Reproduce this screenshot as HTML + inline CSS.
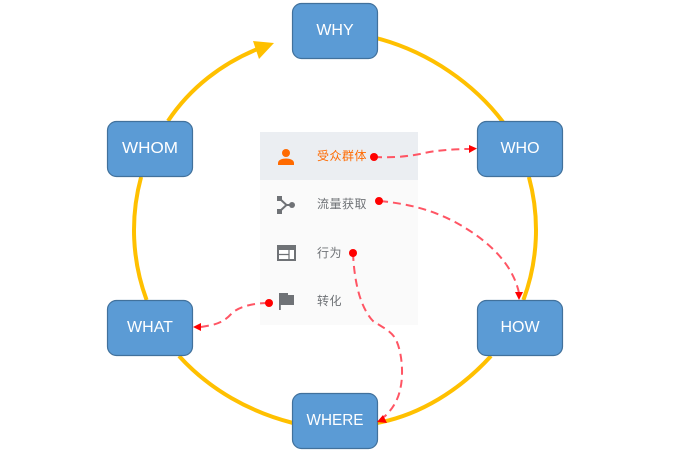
<!DOCTYPE html>
<html><head><meta charset="utf-8">
<style>
html,body{margin:0;padding:0;background:#fff;width:674px;height:450px;overflow:hidden}
svg{display:block}
text{font-family:"Liberation Sans","Noto Sans CJK SC",sans-serif}
.b{fill:#5b9bd5;stroke:#41719c;stroke-width:1.2}
.t{fill:#fff;font-size:16px;text-anchor:middle}
.m{font-size:12px;fill:#6f7276;letter-spacing:.5px}
.d{fill:none;stroke:#ff5564;stroke-width:2;stroke-dasharray:8 5}
.y{fill:none;stroke:#ffc000;stroke-width:4}
</style></head><body>
<svg width="674" height="450" viewBox="0 0 674 450">
<path class="y" d="M376 38 C430 52 475 85 503 122"/>
<path class="y" d="M528.900 177 A201 201 0 0 1 523.400 300"/>
<path class="y" d="M491 356 C460 390 420 415 377 423"/>
<path class="y" d="M293 423 C250 412 210 390 179 356"/>
<path class="y" d="M146.600 300 A201 201 0 0 1 141.100 177"/>
<path class="y" d="M168 121 C190 88 222 63 260 48"/>
<polygon points="274,43 253,41 259,59" fill="#ffc000"/>

<rect x="260" y="132" width="158" height="48" fill="#ebeef2"/>
<rect x="260" y="180" width="158" height="145" fill="#fafafa"/>

<rect class="b" x="292.500" y="3.500" width="85" height="55" rx="9"/>
<rect class="b" x="477.500" y="121.500" width="85" height="55" rx="9"/>
<rect class="b" x="477.500" y="300.500" width="85" height="55" rx="9"/>
<rect class="b" x="292.500" y="393.500" width="85" height="55" rx="9"/>
<rect class="b" x="107.500" y="300.500" width="85" height="55" rx="9"/>
<rect class="b" x="107.500" y="121.500" width="85" height="55" rx="9"/>
<text class="t" x="335" y="35">WHY</text>
<text class="t" x="520" y="153">WHO</text>
<text class="t" x="520" y="332">HOW</text>
<text class="t" x="335" y="425" textLength="57" lengthAdjust="spacingAndGlyphs">WHERE</text>
<text class="t" x="150" y="332">WHAT</text>
<text class="t" x="150" y="153" textLength="56" lengthAdjust="spacingAndGlyphs">WHOM</text>

<text class="m" x="317" y="160" style="fill:#ff6a00">受众群体</text>
<text class="m" x="317" y="208">流量获取</text>
<text class="m" x="317" y="257">行为</text>
<text class="m" x="317" y="305">转化</text>

<circle cx="286" cy="153" r="4" fill="#ff6a00"/>
<path d="M278 165 V163 C278 160 282 158.500 286 158.500 C290 158.500 294 160 294 163 V165 Z" fill="#ff6a00"/>

<g fill="#6f7276">
<rect x="277" y="196" width="5" height="5"/>
<rect x="277" y="209" width="5" height="5"/>
<circle cx="292" cy="205" r="3"/>
<path d="M280 199 L286.500 205 L280 211 M286.500 205 H291" fill="none" stroke="#6f7276" stroke-width="2"/>
</g>

<rect x="278" y="246" width="17" height="14" fill="#fff" stroke="#6f7276" stroke-width="2"/>
<rect x="277" y="245" width="19" height="5" fill="#6f7276"/>
<path d="M278 254.500 H289 M289 250 V260" stroke="#6f7276" stroke-width="1.200" fill="none"/>

<rect x="279" y="293" width="1.800" height="17" fill="#6f7276"/>
<path d="M280 293 H288 V295 H294 V305 H280 Z" fill="#6f7276"/>

<path class="d" d="M374 157 C395 158 410 156 420 154 C432 151 450 149 470 149"/>
<path class="d" d="M380 201 C410 204 432 210 455 222 C490 241 513 265 519 293"/>
<path class="d" d="M353 253 C354 275 358 305 373 321 C380 326 390 330 395 338 C402 350 404 375 400 390 C398 400 392 410 384 417"/>
<path class="d" d="M268 303 C255 303 240 306 232 313 C226 320 220 323 212 325 L201 327"/>

<circle cx="374" cy="157" r="4" fill="#f00"/>
<circle cx="379" cy="201" r="4" fill="#f00"/>
<circle cx="353" cy="253" r="4" fill="#f00"/>
<circle cx="269" cy="303" r="4" fill="#f00"/>
<polygon points="477,148.500 469,145 469,153" fill="#f00"/>
<polygon points="519,300 515,292 523,292" fill="#f00"/>
<polygon points="377,422 383,415 387,423" fill="#f00"/>
<polygon points="193,327 201,323 201,331" fill="#f00"/>
</svg>
</body></html>
